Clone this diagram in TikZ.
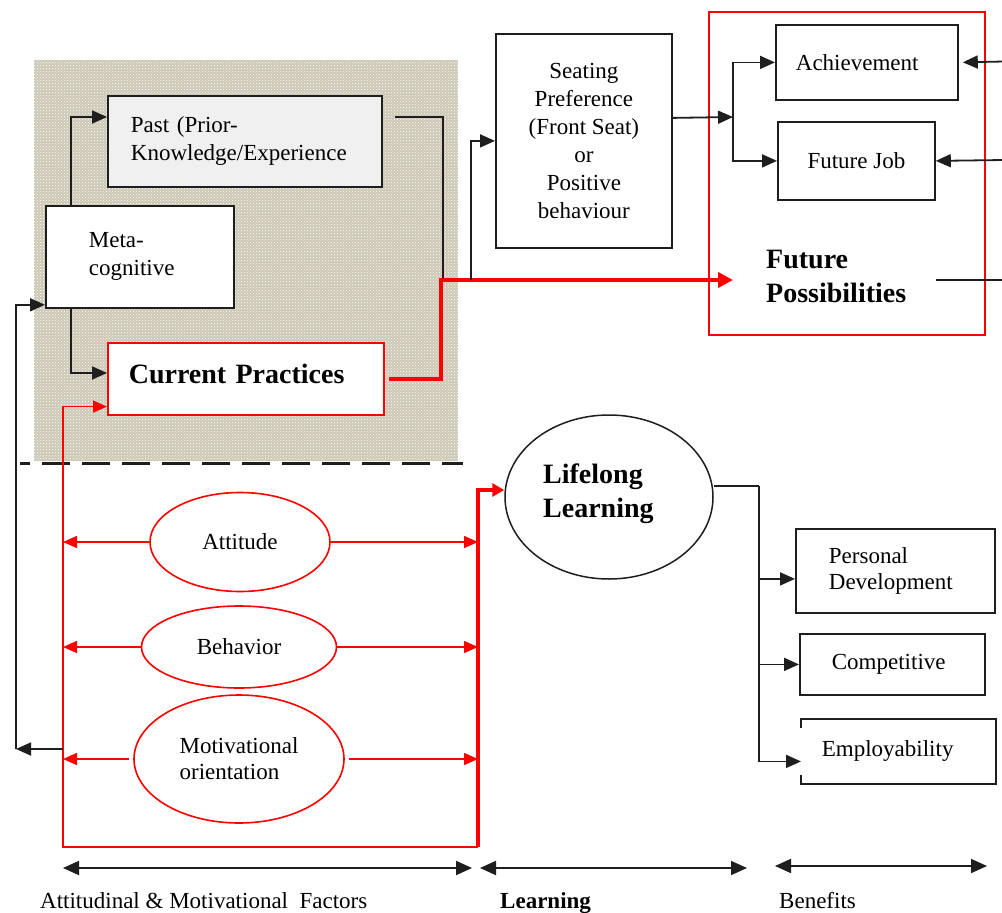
\documentclass[tikz,border=0pt]{standalone}
\usepackage{fontspec}
\setmainfont{Liberation Serif}
\usetikzlibrary{arrows.meta,calc,shapes.geometric,patterns}

\definecolor{inkc}{RGB}{30,30,30}
\definecolor{redc}{RGB}{255,0,0}
\definecolor{shadec}{RGB}{204,200,180}
\definecolor{pastc}{RGB}{240,240,240}

\newcommand\txtreg{\fontsize{23}{28}\selectfont}
\newcommand\txttight{\fontsize{23}{26}\selectfont}
\newcommand\txtbig{\fontsize{28}{34}\selectfont\bfseries}

\begin{document}
\begin{tikzpicture}[x=1pt,y=-1pt,
  boxnode/.style={draw=inkc, line width=1.8pt, fill=white, inner sep=0pt, font=\txtreg, text=black, anchor=north west},
  redbox/.style={boxnode, draw=redc, line width=1.6pt},
  ovalnode/.style={ellipse, draw=redc, line width=1.6pt, fill=white, inner sep=0pt, font=\txtreg},
  txt/.style={inner sep=0pt, font=\txtreg},
  ln/.style={draw=inkc, line width=1.8pt},
  arr/.style={ln, -{Triangle[length=15pt,width=13pt]}},
  rln/.style={draw=redc, line width=1.6pt},
  rarr/.style={rln, -{Triangle[length=14pt,width=12pt]}},
  rthick/.style={draw=redc, line width=4pt},
  spanarr/.style={ln, {Triangle[length=16pt,width=14pt]}-{Triangle[length=16pt,width=14pt]}},
]
\fill[white] (0,0) rectangle (1002,913);
\useasboundingbox (0,0) rectangle (1002,913);

% shaded background of the metacognitive block
\fill[shadec] (34,60) rectangle (458,461);
\fill[pattern=crosshatch dots, pattern color=white] (34,60) rectangle (458,461);
\draw[inkc, line width=3pt, dash pattern=on 28pt off 12pt, dash phase=18pt] (20,463) -- (463,463);

% upper-left block
\node[boxnode, fill=pastc, minimum height=91pt, text width=228pt, inner xsep=23pt, align=left] (past) at (107,95) {Past (Prior-\\Knowledge/Experience};
\node[boxnode, minimum height=102pt, text width=102pt, inner xsep=43pt, align=left] (meta) at (45,205) {Meta-\\cognitive};
\node[redbox, font=\txtbig, minimum height=72pt, text width=234pt, inner xsep=21pt, text depth=10pt, align=left] (cur) at (107,342) {Current Practices};

% seating preference and future possibilities
\node[boxnode, minimum width=176pt, minimum height=214pt, align=center] (seat) at (495,33) {Seating\\Preference\\(Front Seat)\\or\\Positive\\behaviour};
\node[draw=redc, line width=1.6pt, minimum width=276pt, minimum height=323pt, anchor=north west, inner sep=0pt] (fp) at (708,11) {};
\node[boxnode, minimum height=75pt, text width=142pt, inner xsep=20pt, align=left] (ach) at (775,24) {Achievement};
\node[boxnode, minimum width=157pt, minimum height=78pt] (job) at (777,121) {Future Job};
\node[txt, font=\txtbig, align=left, anchor=west] (fptext) at (766,276) {Future\\Possibilities};

% lifelong learning
\node[ellipse, draw=inkc, line width=1.5pt, fill=white, minimum width=208pt, minimum height=164pt] (ll) at (609,497) {};
\node[txt, font=\txtbig, align=left, anchor=west] (lltext) at (543,494) {Lifelong\\Learning};

% attitudinal and motivational factors
\node[ovalnode, minimum width=180pt, minimum height=99pt] (att) at (240,542) {Attitude};
\node[ovalnode, minimum width=195pt, minimum height=82pt] (beh) at (239,647) {Behavior};
\node[ovalnode, minimum width=210pt, minimum height=128pt, font=\txttight, align=left] (mot) at (239,759) {Motivational\\orientation};

% benefits
\node[boxnode, minimum height=84pt, text width=133pt, inner xsep=33pt, align=left, font=\txttight] (pd) at (795,528) {Personal\\Development};
\node[boxnode, minimum height=61pt, text width=121pt, inner xsep=32pt, align=left] (comp) at (799,633) {Competitive};
\node[boxnode, draw=none, minimum height=63pt, text width=153pt, inner xsep=20pt, align=left] (emp) at (801,719) {Employability};
\draw[ln] ($(emp.north west)+(0,9)$) -- (emp.north west) -- (emp.north east) -- (emp.south east) -- (emp.south west) -- ($(emp.south west)+(0,-9)$);

% junction points
\coordinate (junc) at (441,280);
\coordinate (fpin) at (733,280);
\coordinate (fpout) at (936,280);
\coordinate (eF) at (1004,280);
\coordinate (br) at (733,117);
\coordinate (eA) at (1004,61.5);
\coordinate (eJ) at (1004,160);
\coordinate (lbot) at (63,847);
\coordinate (rbot) at (478,847);
\coordinate (fbL) at (16,749);
\coordinate (fbR) at (63,749);
\coordinate (bj) at (759,486);

% metacognitive links
\draw[arr] ($(meta.north west)+(26,0)$) |- ($(past.north west)+(0,22)$);
\draw[arr] ($(meta.south west)+(26,0)$) |- ($(cur.north west)+(0,31)$);
\draw[ln] ($(past.north east)+(12,22)$) -| ($(junc)+(2,0)$);
\draw[rthick, -{Triangle[length=15pt,width=15pt]}, shorten <=4pt] (cur.east) -| (junc) -- (fpin);
\draw[arr] ($(junc)+(30,0)$) |- (seat.west);
\draw[arr] ($(seat.east)+(0,-23)$) -- (br);
\draw[arr] (br) |- (ach.west);
\draw[arr] (br) |- (job.west);
\draw[arr, shorten >=4pt] (eA) -- (ach.east);
\draw[arr] (eJ) -- (job.east);
\draw[ln] (fpout) -- (eF);

% red feedback loop
\draw[rarr] (rbot) -- (lbot) |- ($(cur.south west)+(0,-9)$);
\draw[rthick, -{Triangle[length=12pt,width=13pt]}] (rbot) |- ($(ll.west)+(0,-7)$);
\draw[rarr] (att.west) -- (att.west -| lbot);
\draw[rarr] (att.east) -- (att.east -| rbot);
\draw[rarr] (beh.west) -- (beh.west -| lbot);
\draw[rarr] (beh.east) -- (beh.east -| rbot);
\draw[rarr, shorten <=4pt] (mot.west) -- (mot.west -| lbot);
\draw[rarr, shorten <=4pt] (mot.east) -- (mot.east -| rbot);

% black feedback to metacognition
\draw[arr] (fbR) -- (fbL);
\draw[arr] (fbL) |- ($(meta.south west)+(0,-4)$);

% lifelong learning to benefits
\draw[ln] ($(ll.east)+(0,-11)$) -- (bj);
\draw[arr] (bj) |- ($(pd.west)+(0,8)$);
\draw[arr] (bj) |- (comp.west);
\draw[arr] (bj) |- ($(emp.west)+(0,10)$);

% stage spans
\coordinate (s1a) at (63,868);
\coordinate (s1b) at (472,868);
\coordinate (s2a) at (480,868);
\coordinate (s2b) at (747,868);
\coordinate (s3a) at (775,866);
\coordinate (s3b) at (987,866);
\draw[spanarr] (s1a) -- (s1b);
\draw[spanarr] (s2a) -- (s2b);
\draw[spanarr] (s3a) -- (s3b);
\node[txt, anchor=base west] (lab1) at (40,908) {Attitudinal \& Motivational\ \ Factors};
\node[txt, font=\fontsize{23}{28}\selectfont\bfseries, anchor=base west] (lab2) at (500,908) {Learning};
\node[txt, anchor=base west] (lab3) at (779,908) {Benefits};
\end{tikzpicture}
\end{document}
